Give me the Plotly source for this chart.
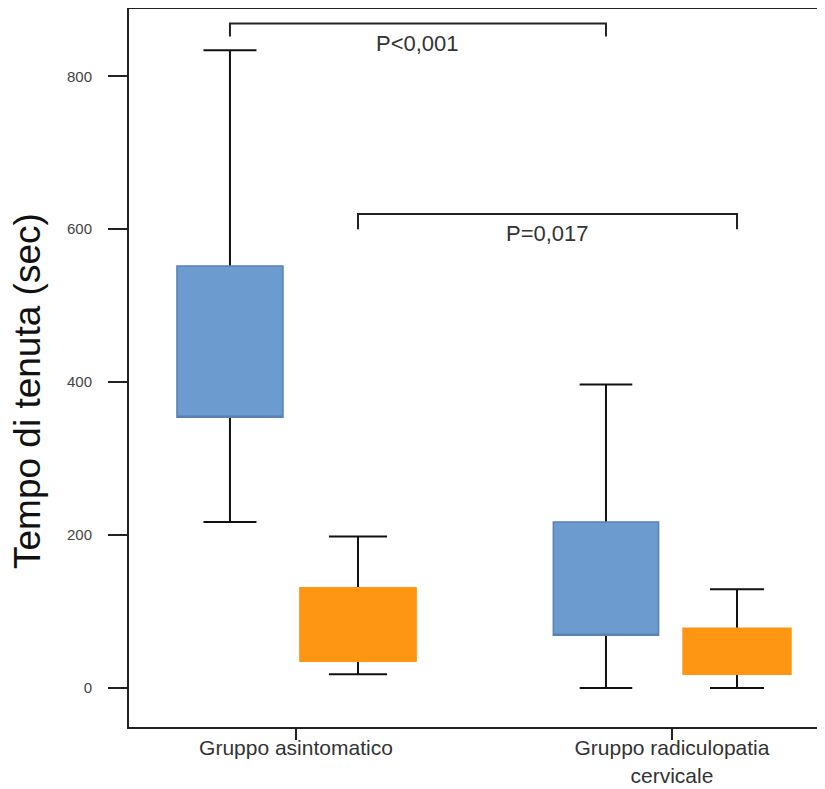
import plotly.graph_objects as go

# ---- data ----
groups = ["Gruppo asintomatico", "Gruppo radiculopatia<br>cervicale"]

# blue series (one value per group)
blue_lower = [217, 0]
blue_q1 = [354, 69]
blue_q3 = [552, 217]
blue_upper = [834, 397]

# orange series
orange_lower = [18, 0]
orange_q1 = [35, 18]
orange_q3 = [131, 78]
orange_upper = [198, 129]

y_ticks = [0, 200, 400, 600, 800]

p_labels = ["P<0,001", "P=0,017"]
bracket_levels = [869, 620]
bracket_drop = [852, 600]
p_label_y = [843, 594]

# ---- styling ----
BLUE = "#6b9bcf"
BLUE_EDGE = "#5a82b0"
ORANGE = "#fe9614"
TXT = "#333333"
FONT = "Liberation Sans, Arial, sans-serif"

group_pos = [1, 2]
blue_off = [-0.1755, -0.1755]
orange_off = [0.165, 0.173]
blue_w = [0.282, 0.280]
orange_w = [0.309, 0.287]

fig = go.Figure()

def add_box(x, lo, q1, q3, hi, w, fill, edge):
    mid = (q1 + q3) / 2
    # black layer: whiskers and caps (its own box collapsed inside the coloured box)
    fig.add_trace(go.Box(
        x=[x], lowerfence=[lo], q1=[mid], median=[mid], q3=[mid], upperfence=[hi],
        width=w * 0.5, whiskerwidth=1.0, fillcolor=fill,
        line=dict(color="#111111", width=2), boxpoints=False, showlegend=False,
        hoverinfo="skip"))
    # coloured layer: the box itself
    fig.add_trace(go.Box(
        x=[x], lowerfence=[q1], q1=[q1], median=[q1], q3=[q3], upperfence=[q3],
        width=w, whiskerwidth=0, fillcolor=fill,
        line=dict(color=edge, width=1.5), boxpoints=False, showlegend=False,
        hoverinfo="skip"))

for i in range(len(groups)):
    add_box(group_pos[i] + blue_off[i], blue_lower[i], blue_q1[i], blue_q3[i],
            blue_upper[i], blue_w[i], BLUE, BLUE_EDGE)
    add_box(group_pos[i] + orange_off[i], orange_lower[i], orange_q1[i], orange_q3[i],
            orange_upper[i], orange_w[i], ORANGE, ORANGE)

# significance brackets
pairs = [
    (group_pos[0] + blue_off[0], group_pos[1] + blue_off[1]),
    (group_pos[0] + orange_off[0], group_pos[1] + orange_off[1]),
]
for k, (xa, xb) in enumerate(pairs):
    fig.add_shape(type="path", xref="x", yref="y",
                  path=f"M {xa},{bracket_drop[k]} L {xa},{bracket_levels[k]} "
                       f"L {xb},{bracket_levels[k]} L {xb},{bracket_drop[k]}",
                  line=dict(color="#222222", width=2))
    fig.add_annotation(x=(xa + xb) / 2, y=p_label_y[k], xref="x", yref="y",
                       text=p_labels[k], showarrow=False,
                       font=dict(size=22, color=TXT, family=FONT))

# page body has an 8px margin, so the figure is 8px smaller and drawn from (8, 8)
W, H = 817, 781
ML, MT, MB = 121, 1, 62
PH = H - MT - MB
PW = W - ML

# y-axis title (rotated text, slightly below the plot centre as in the reference)
fig.add_annotation(text="Tempo di tenuta (sec)", xref="paper", yref="paper",
                   x=(19 - ML) / PW, y=(MT + PH - 383) / PH,
                   xanchor="center", yanchor="middle", textangle=-90,
                   showarrow=False,
                   font=dict(size=37, color="#111111", family=FONT))

fig.update_layout(
    width=W, height=H,
    margin=dict(l=ML, r=0, t=MT, b=MB),
    paper_bgcolor="white", plot_bgcolor="white",
    boxmode="overlay", showlegend=False,
    font=dict(family=FONT, color=TXT),
)
fig.update_xaxes(
    range=[0.556, 2.407], tickvals=group_pos, ticktext=groups,
    ticks="outside", ticklen=11, tickwidth=2, tickcolor="#222222",
    ticklabelstandoff=-10,
    showline=True, linecolor="#222222", linewidth=2, mirror=True,
    showgrid=False, zeroline=False, automargin=False,
    tickfont=dict(size=21, color=TXT, family=FONT),
)
fig.update_yaxes(
    range=[-51, 888], tickvals=y_ticks,
    ticks="outside", ticklen=19, tickwidth=2, tickcolor="#222222",
    ticklabelstandoff=13,
    showline=True, linecolor="#222222", linewidth=2, mirror=False,
    showgrid=False, zeroline=False, automargin=False,
    tickfont=dict(size=15, color="#444444", family=FONT),
)

fig.write_html("out.html")
